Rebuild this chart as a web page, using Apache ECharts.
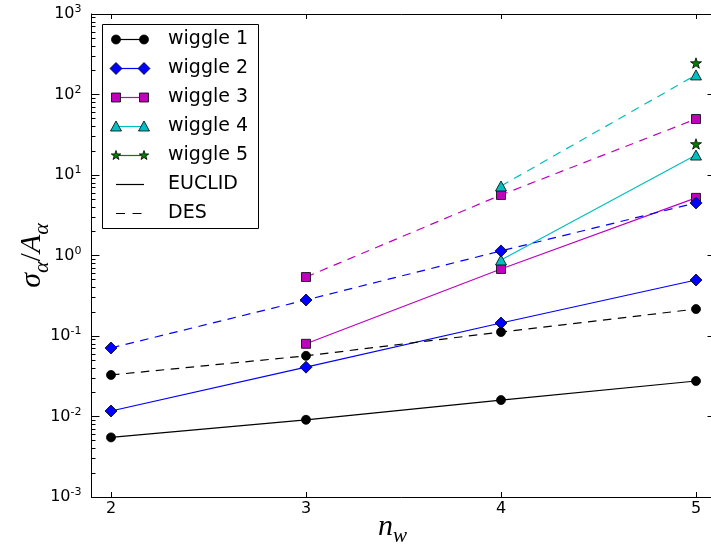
<!DOCTYPE html>
<html>
<head>
<meta charset="utf-8">
<script src="https://cdn.jsdelivr.net/npm/echarts@6/dist/echarts.min.js"></script>
<style>html,body{margin:0;padding:0;background:#fff;}#c{width:711px;height:545px;}</style>
</head>
<body>
<div id="c"></div>
<script>
// ---- data ----
const nw = [2, 3, 4, 5];
const wiggle1Euclid = [0.0055, 0.0091, 0.0160, 0.0276];
const wiggle1Des    = [0.0328, 0.0567, 0.112, 0.216];
const wiggle2Euclid = [0.0117, 0.041, 0.145, 0.496];
const wiggle2Des    = [0.071, 0.28, 1.14, 4.5];
const wiggle3Euclid = [null, 0.080, 0.68, 5.2];
const wiggle3Des    = [null, 0.54, 5.65, 49.6];
const wiggle4Euclid = [null, null, 0.88, 17.7];
const wiggle4Des    = [null, null, 7.3, 175];
const wiggle5Euclid = [null, null, null, 24.3];
const wiggle5Des    = [null, null, null, 246];
const xTicks = [2, 3, 4, 5];
const yMajorTicks = [1e-3, 1e-2, 1e-1, 1e0, 1e1, 1e2, 1e3];
const legendNames = ['wiggle 1', 'wiggle 2', 'wiggle 3', 'wiggle 4', 'wiggle 5', 'EUCLID', 'DES'];

// ---- styles ----
const colors = ['#000000', '#0000ff', '#bf00bf', '#00bfbf', '#008000'];
const starPath = 'path://M50,0L61.17,34.63L97.55,34.55L68.07,55.87L79.39,90.45L50,69L20.61,90.45L31.93,55.87L2.45,34.55L38.83,34.63Z';
const symbols = ['circle', 'diamond', 'rect', 'triangle', starPath];
const symbolSizes = [9, [12, 12], 9, [11, 10], 11];
const dashPattern = [8.5, 6.5];

const yMinorTicks = [];
for (let d = -3; d < 3; d++) {
  for (let k = 2; k <= 9; k++) yMinorTicks.push(+(k * Math.pow(10, d)).toPrecision(3));
}

function pairs(arr) {
  return nw.map((x, i) => [x, arr[i]]).filter(p => p[1] != null);
}

const euclidSets = [wiggle1Euclid, wiggle2Euclid, wiggle3Euclid, wiggle4Euclid, wiggle5Euclid];
const desSets = [wiggle1Des, wiggle2Des, wiggle3Des, wiggle4Des, wiggle5Des];

function mkSeries(arr, i, dashed) {
  return {
    type: 'line',
    name: legendNames[i] + (dashed ? ' DES' : ' EUCLID'),
    data: pairs(arr),
    xAxisIndex: 0, yAxisIndex: 0,
    symbol: symbols[i],
    symbolSize: symbolSizes[i],
    symbolKeepAspect: true,
    showAllSymbol: true,
    lineStyle: { color: colors[i], width: 1.2, type: dashed ? dashPattern : 'solid', cap: 'butt' },
    itemStyle: { color: colors[i], borderColor: '#000', borderWidth: 0.8 },
    emphasis: { disabled: true },
    animation: false
  };
}
const series = [];
euclidSets.forEach((a, i) => series.push(mkSeries(a, i, false)));
desSets.forEach((a, i) => series.push(mkSeries(a, i, true)));

// ---- legend drawn with graphic ----
function legendSymbol(i, cx, cy) {
  const st = { fill: colors[i], stroke: '#000', lineWidth: 0.8 };
  if (i === 0) return { type: 'circle', shape: { cx, cy, r: 4.5 }, style: st };
  if (i === 1) return { type: 'polygon', shape: { points: [[cx, cy - 6], [cx + 6, cy], [cx, cy + 6], [cx - 6, cy]] }, style: st };
  if (i === 2) return { type: 'rect', shape: { x: cx - 4.5, y: cy - 4.5, width: 9, height: 9 }, style: st };
  if (i === 3) return { type: 'polygon', shape: { points: [[cx, cy - 5.5], [cx + 5.5, cy + 4.5], [cx - 5.5, cy + 4.5]] }, style: st };
  const pts = [];
  for (let k = 0; k < 10; k++) {
    const a = -Math.PI / 2 + k * Math.PI / 5;
    const r = k % 2 === 0 ? 5 : 2;
    pts.push([cx + r * Math.cos(a), cy + r * Math.sin(a)]);
  }
  return { type: 'polygon', shape: { points: pts }, style: st };
}
const lg = [];
lg.push({ type: 'rect', shape: { x: 102.5, y: 24.5, width: 156, height: 204 }, style: { fill: '#fff', stroke: '#000', lineWidth: 1 }, z: 100 });
const x1 = 116, x2 = 144, tx = 168;
legendNames.forEach((nm, r) => {
  const cy = 39.5 + r * 29;
  if (r < 5) {
    lg.push({ type: 'line', shape: { x1, y1: cy, x2, y2: cy }, style: { stroke: colors[r], lineWidth: 1.2 }, z: 101 });
    const s1 = legendSymbol(r, x1, cy); s1.z = 102; lg.push(s1);
    const s2 = legendSymbol(r, x2, cy); s2.z = 102; lg.push(s2);
  } else {
    lg.push({ type: 'line', shape: { x1, y1: cy, x2, y2: cy }, style: { stroke: '#000', lineWidth: 1.2, lineDash: r === 6 ? [9, 7.5] : null }, z: 101 });
  }
  lg.push({ type: 'text', x: tx, y: cy, style: { text: nm, fontFamily: 'DejaVu Sans', fontSize: 19, fill: '#000', verticalAlign: 'middle', align: 'left' }, z: 102 });
});

const axisLine = { show: true, lineStyle: { color: '#000', width: 1 } };
const logBase = { type: 'log', logBase: 10, min: 1e-3, max: 1e3, splitLine: { show: false } };
const serif = 'Liberation Serif';

const option = {
  animation: false,
  backgroundColor: '#fff',
  textStyle: { fontFamily: 'DejaVu Sans' },
  grid: { left: 91.5, top: 14, width: 624, height: 483, containLabel: false, outerBoundsMode: 'none' },
  xAxis: [
    {
      type: 'value', min: 1.9, max: 5.1, position: 'bottom',
      axisLine: axisLine, splitLine: { show: false },
      axisTick: { show: true, inside: true, length: 5, customValues: xTicks, lineStyle: { color: '#000' } },
      axisLabel: { customValues: xTicks, fontSize: 16, color: '#000', margin: 4, fontFamily: 'DejaVu Sans' },
      name: '{i|n}{w|w}', nameLocation: 'middle', nameGap: 15, nameMoveOverlap: false,
      nameTextStyle: { padding: [0, 22, 0, 0], rich: {
        i: { fontFamily: serif, fontStyle: 'italic', fontSize: 30, color: '#000', padding: [0, 0, 5, 0], verticalAlign: 'bottom' },
        w: { fontFamily: serif, fontStyle: 'italic', fontSize: 21, color: '#000', verticalAlign: 'bottom' } } }
    },
    {
      type: 'value', min: 1.9, max: 5.1, position: 'top',
      axisLine: axisLine, splitLine: { show: false },
      axisTick: { show: true, inside: true, length: 5, customValues: xTicks, lineStyle: { color: '#000' } },
      axisLabel: { show: false }
    }
  ],
  yAxis: [
    Object.assign({}, logBase, {
      position: 'left', axisLine: axisLine,
      axisTick: { show: true, inside: true, length: 8, customValues: yMajorTicks, lineStyle: { color: '#000' } },
      axisLabel: {
        customValues: yMajorTicks, margin: 10,
        formatter: v => '{b|10}{s|' + Math.round(Math.log10(v)) + '}',
        rich: {
          b: { fontSize: 16, fontFamily: 'DejaVu Sans', color: '#000' },
          s: { fontSize: 11, fontFamily: 'DejaVu Sans', color: '#000', padding: [0, 0, 9, 0] }
        }
      },
      name: '{i|σ}{a|α}{r|/}{i|A}{a|α}', nameLocation: 'middle', nameRotate: 90, nameGap: 38, nameMoveOverlap: false,
      nameTextStyle: { rich: {
        i: { fontFamily: serif, fontStyle: 'italic', fontSize: 30, color: '#000', padding: [0, 0, 6, 0], verticalAlign: 'bottom' },
        r: { fontFamily: serif, fontSize: 30, color: '#000', padding: [0, 0, 6, 0], verticalAlign: 'bottom' },
        a: { fontFamily: serif, fontStyle: 'italic', fontSize: 22, color: '#000', verticalAlign: 'bottom' } } }
    }),
    Object.assign({}, logBase, {
      position: 'right', axisLine: axisLine,
      axisTick: { show: true, inside: true, length: 8, customValues: yMajorTicks, lineStyle: { color: '#000' } },
      axisLabel: { show: false }
    }),
    Object.assign({}, logBase, {
      position: 'left', axisLine: { show: false },
      axisTick: { show: true, inside: true, length: 4, customValues: yMinorTicks, lineStyle: { color: '#000' } },
      axisLabel: { show: false }
    }),
    Object.assign({}, logBase, {
      position: 'right', axisLine: { show: false },
      axisTick: { show: true, inside: true, length: 4, customValues: yMinorTicks, lineStyle: { color: '#000' } },
      axisLabel: { show: false }
    })
  ],
  series: series,
  graphic: { elements: lg }
};

const chart = echarts.init(document.getElementById('c'), null, { renderer: 'canvas' });
chart.setOption(option);
</script>
</body>
</html>
